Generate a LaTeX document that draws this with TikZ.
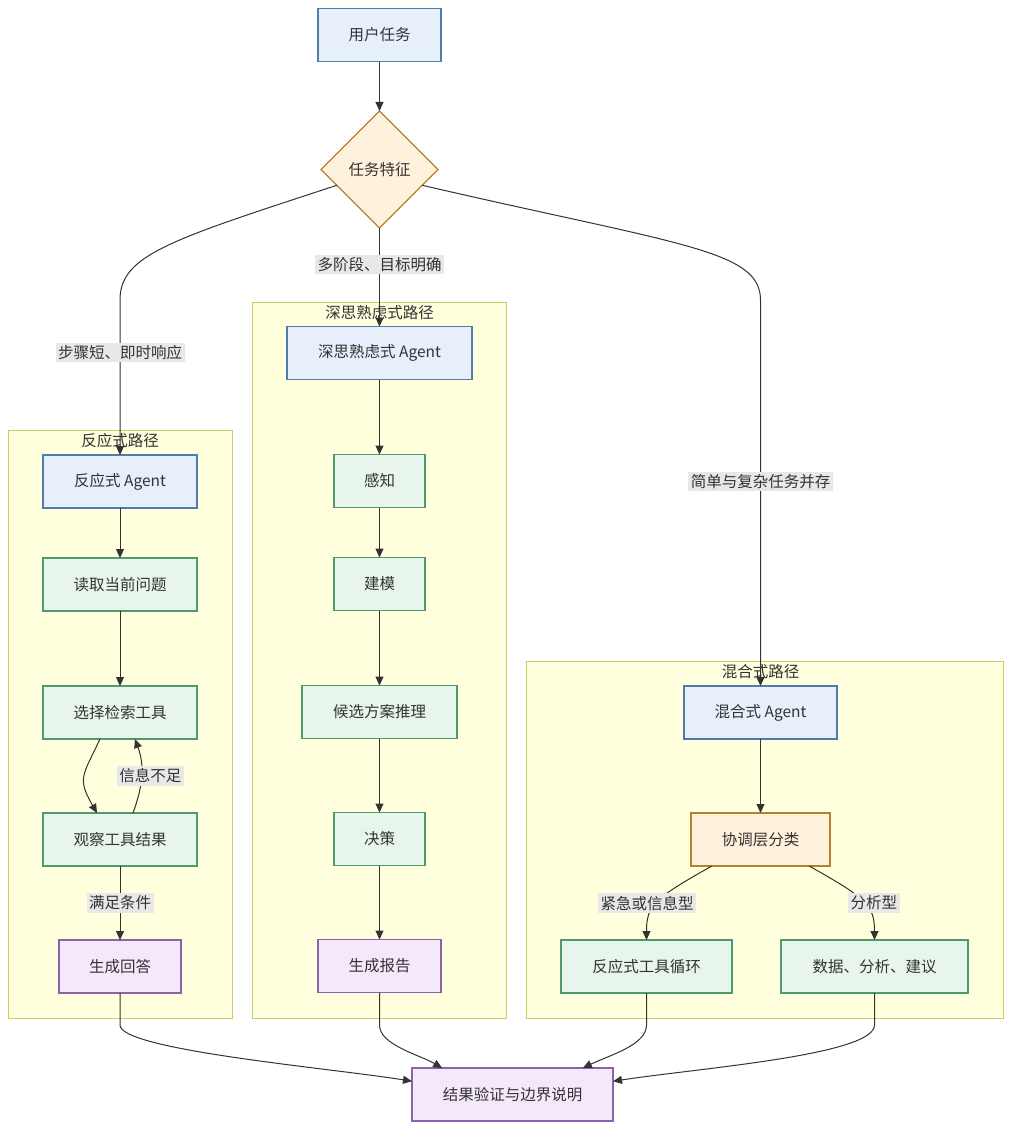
\documentclass[tikz,border=0pt]{standalone}
\usepackage{fontspec}
\setmainfont{Noto Sans CJK SC}
\usetikzlibrary{positioning,calc,arrows.meta,shapes.geometric}
\definecolor{txt}{HTML}{333333}
\definecolor{edge}{HTML}{333333}
\definecolor{bluefill}{HTML}{E6EFFA}
\definecolor{blueline}{HTML}{4F7CAC}
\definecolor{greenfill}{HTML}{E8F5EC}
\definecolor{greenline}{HTML}{4E9A6E}
\definecolor{purplefill}{HTML}{F4E8FA}
\definecolor{purpleline}{HTML}{8B63AD}
\definecolor{orangefill}{HTML}{FFF2DD}
\definecolor{orangeline}{HTML}{B8802E}
\definecolor{grpfill}{HTML}{FFFFDE}
\definecolor{grpline}{HTML}{CBCB6A}
\definecolor{lblfill}{HTML}{E8E8E8}
\tikzset{txtfont/.style={font=\fontsize{15.5}{18}\selectfont, text=txt}}
\tikzset{pbox/.style={txtfont, draw, line width=1.3pt, minimum height=53pt, inner sep=0pt, outer sep=0pt}}
\tikzset{pblue/.style={pbox, fill=bluefill, draw=blueline}}
\tikzset{pgreen/.style={pbox, fill=greenfill, draw=greenline}}
\tikzset{ppurple/.style={pbox, fill=purplefill, draw=purpleline}}
\tikzset{porange/.style={pbox, fill=orangefill, draw=orangeline}}
\tikzset{cond/.style={txtfont, diamond, aspect=1, draw=orangeline, fill=orangefill, line width=1.3pt, minimum width=117pt, minimum height=117pt, inner sep=0pt, outer sep=0pt}}
\tikzset{grp/.style={draw=grpline, fill=grpfill, line width=1pt}}
\tikzset{grptitle/.style={txtfont, inner sep=1pt}}
\tikzset{lbl/.style={txtfont, fill=lblfill, inner sep=2.5pt}}
\tikzset{arr/.style={draw=edge, line width=1pt, -{Triangle[length=9pt,width=8pt]}}}

\begin{document}
\begin{tikzpicture}[x=1pt,y=1pt]
	\useasboundingbox (0,0) rectangle (1019,-1138);
	% groups
	\draw[grp] (8,-430) rectangle (232,-1018);
	\node[grptitle] (rtitle) at (120,-441) {反应式路径};
	\draw[grp] (252,-302) rectangle (506,-1018);
	\node[grptitle] (dtitle) at (379.5,-313) {深思熟虑式路径};
	\draw[grp] (526,-661) rectangle (1003,-1018);
	\node[grptitle] (htitle) at (760.5,-672) {混合式路径};

	\node[pblue, minimum width=123pt] (task) at (379.5,-35) {用户任务};
	\node[cond] (feat) at (379.5,-169.5) {任务特征};

	% reactive
	\node[pblue, minimum width=154pt] (ra) at (120,-481.5) {反应式 Agent};
	\node[pgreen, minimum width=154pt, below=50pt of ra] (read) {读取当前问题};
	\node[pgreen, minimum width=154pt, below=75pt of read] (sel) {选择检索工具};
	\node[pgreen, minimum width=154pt, below=74pt of sel] (obs) {观察工具结果};
	\node[ppurple, minimum width=122pt, below=74pt of obs] (ans) {生成回答};

	% deliberative
	\node[pblue, minimum width=185pt] (da) at (379.5,-353) {深思熟虑式 Agent};
	\node[pgreen, minimum width=91pt, below=75pt of da] (sense) {感知};
	\node[pgreen, minimum width=91pt, below=50pt of sense] (model) {建模};
	\node[pgreen, minimum width=155pt, below=75pt of model] (plan) {候选方案推理};
	\node[pgreen, minimum width=91pt, below=74pt of plan] (dec) {决策};
	\node[ppurple, minimum width=123pt, below=74pt of dec] (rep) {生成报告};

	% hybrid
	\node[pblue, minimum width=153pt] (ha) at (760.5,-712.5) {混合式 Agent};
	\node[porange, minimum width=139pt, below=74pt of ha] (coord) {协调层分类};
	\node[pgreen, minimum width=171pt] (rloop) at (646.5,-966.5) {反应式工具循环};
	\node[pgreen, minimum width=187pt] (advice) at (874.5,-966.5) {数据、分析、建议};

	\node[ppurple, minimum width=201pt] (fin) at (512.5,-1094.5) {结果验证与边界说明};

	% edges
	\draw[arr] (task) -- (feat);
	\draw[arr] ($(feat.west)!0.27!(feat.south)$) .. controls (170,-240) and (120,-255) .. (120,-300)
		-- node[lbl, pos=0.34] {步骤短、即时响应} (ra);
	\draw[arr] (feat) -- node[lbl, pos=0.37] {多阶段、目标明确} (da);
	\draw[arr] ($(feat.east)!0.27!(feat.south)$) .. controls (680,-245) and (760.5,-250) .. (760.5,-300)
		-- node[lbl, pos=0.47] {简单与复杂任务并存} (ha);

	\draw[arr] (ra) -- (read);
	\draw[arr] (read) -- (sel);
	\draw[arr] ($(sel.south)+(-20,0)$) to[out=-115, in=120, looseness=1.4] ($(obs.north)+(-23,0)$);
	\draw[arr] ($(obs.north)+(13,0)$) to[out=70, in=-70]
		node[lbl, pos=0.5, xshift=9pt] {信息不足} ($(sel.south)+(15,0)$);
	\draw[arr] (obs) -- node[lbl] {满足条件} (ans);

	\draw[arr] (da) -- (sense);
	\draw[arr] (sense) -- (model);
	\draw[arr] (model) -- (plan);
	\draw[arr] (plan) -- (dec);
	\draw[arr] (dec) -- (rep);

	\draw[arr] (ha) -- (coord);
	\draw[arr] ($(coord.south west)!0.15!(coord.south east)$) .. controls (655,-898) and (646.5,-905) ..
		node[lbl, pos=0.6, xshift=-6pt, yshift=5pt] {紧急或信息型} (rloop.north);
	\draw[arr] ($(coord.south west)!0.85!(coord.south east)$) .. controls (866,-898) and (874.5,-905) ..
		node[lbl, pos=0.6, xshift=6pt, yshift=5pt] {分析型} (advice.north);

	\draw[arr] (ans) -- (120,-1025) .. controls (120,-1050) and (330,-1068) ..
		($(fin.north west)!0.25!(fin.south west)$);
	\draw[arr] (rep) -- (379.5,-1025) .. controls (379.5,-1045) and (420,-1055) ..
		($(fin.north west)!0.15!(fin.north east)$);
	\draw[arr] (rloop) -- (646.5,-1025) .. controls (646.5,-1045) and (610,-1055) ..
		($(fin.north west)!0.85!(fin.north east)$);
	\draw[arr] (advice) -- (874.5,-1025) .. controls (874.5,-1055) and (700,-1068) ..
		($(fin.north east)!0.25!(fin.south east)$);
\end{tikzpicture}
\end{document}
